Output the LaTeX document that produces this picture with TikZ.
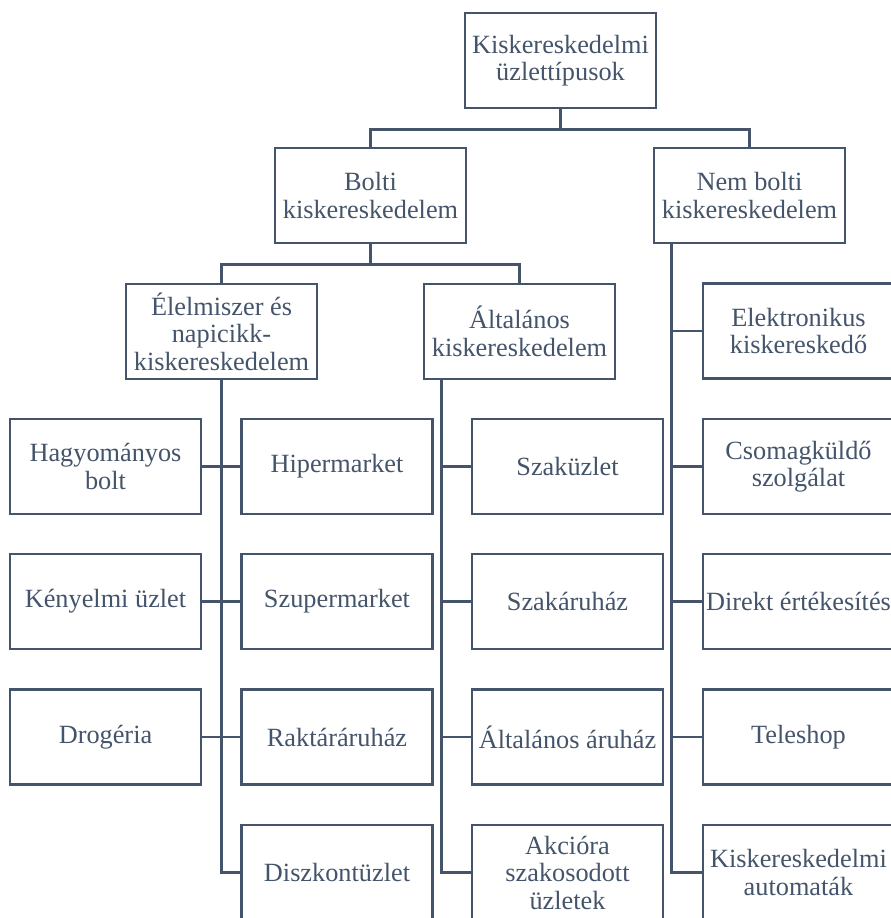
\documentclass[tikz,border=0pt]{standalone}
\usepackage{fontspec}
\newfontfamily\timesx{Liberation Serif}
\definecolor{slate}{HTML}{44546A}
\begin{document}
\begin{tikzpicture}[x=1pt,y=-1pt,
  box/.style={draw=slate,line width=2.6pt,text=slate,minimum width=191pt,minimum height=95pt,
    inner sep=0pt,align=center,font=\timesx\fontsize{26.3}{27.5}\selectfont},
  link/.style={draw=slate,line width=2.6pt}]
\useasboundingbox (0,0) rectangle (891,918);
% level 0-2
\node[box] (root) at (560.5,60.5) {Kiskereskedelmi\\üzlettípusok};
\node[box] (bolti) at (370.5,195.5) {Bolti\\kiskereskedelem};
\node[box] (nembolti) at (749.5,195.5) {Nem bolti\\kiskereskedelem};
\node[box] (elel) at (221.5,331.5) {Élelmiszer és\\napicikk-\\kiskereskedelem};
\node[box] (alt) at (519.5,331.5) {Általános\\kiskereskedelem};
\node[box] (elektr) at (798.5,331) {Elektronikus\\kiskereskedő};
% left column
\node[box] (hagy) at (105.5,466.5) {Hagyományos\\bolt};
\node[box] (keny) at (105.5,601.5) {Kényelmi üzlet};
\node[box] (drog) at (105.5,737) {Drogéria};
% food column
\node[box] (hiper) at (337,466.5) {Hipermarket};
\node[box] (szuper) at (337,601.5) {Szupermarket};
\node[box] (raktar) at (337,737) {Raktáráruház};
\node[box] (diszk) at (337,872.5) {Diszkontüzlet};
% general column
\node[box] (szaku) at (567.5,466.5) {Szaküzlet};
\node[box] (szaka) at (567.5,601.5) {Szakáruház};
\node[box] (altaru) at (567.5,737) {Általános áruház};
\node[box] (akcio) at (567.5,872.5) {Akcióra\\szakosodott\\üzletek};
% non-store column
\node[box] (csomag) at (798.5,466.5) {Csomagküldő\\szolgálat};
\node[box] (direkt) at (798.5,601.5) {Direkt értékesítés};
\node[box] (tele) at (798.5,737) {Teleshop};
\node[box] (autom) at (798.5,872.5) {Kiskereskedelmi\\automaták};
% connectors
\draw[link] (root.south) -- ++(0,20) coordinate (r1);
\draw[link] (bolti.north) |- (r1) -| (nembolti.north);
\draw[link] (bolti.south) -- ++(0,20) coordinate (b1);
\draw[link] (elel.north) |- (b1) -| (alt.north);
\draw[link] (elel.south) |- (diszk.west);
\draw[link] (hagy.east) -- (hiper.west);
\draw[link] (keny.east) -- (szuper.west);
\draw[link] (drog.east) -- (raktar.west);
\coordinate (as) at ([xshift=19pt]alt.south west);
\draw[link] (as) |- (akcio.west);
\draw[link] (szaku.west) -- (szaku.west -| as);
\draw[link] (szaka.west) -- (szaka.west -| as);
\draw[link] (altaru.west) -- (altaru.west -| as);
\coordinate (ns) at ([xshift=19pt]nembolti.south west);
\draw[link] (ns) |- (autom.west);
\draw[link] (elektr.west) -- (elektr.west -| ns);
\draw[link] (csomag.west) -- (csomag.west -| ns);
\draw[link] (direkt.west) -- (direkt.west -| ns);
\draw[link] (tele.west) -- (tele.west -| ns);
\end{tikzpicture}
\end{document}
